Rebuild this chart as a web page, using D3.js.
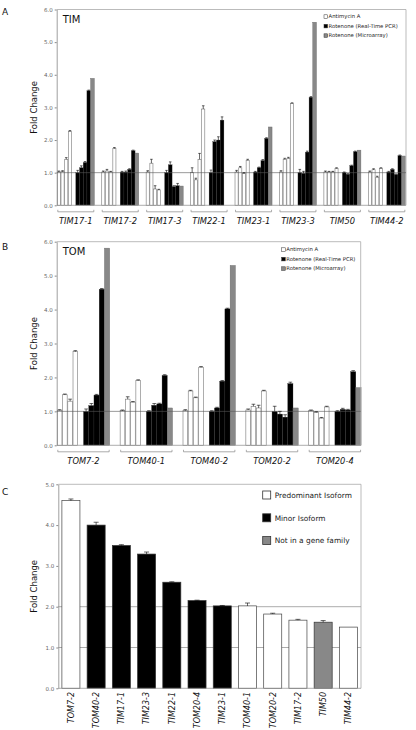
<!DOCTYPE html>
<html><head><meta charset="utf-8">
<script src="https://cdn.jsdelivr.net/npm/d3@7"></script>
<style>body{margin:0;background:#fff} svg{display:block;font-family:"DejaVu Sans",Verdana,sans-serif}</style>
</head><body><script>
// ---------- Panel A: TIM ----------
const timGenes = ["TIM17-1","TIM17-2","TIM17-3","TIM22-1","TIM23-1","TIM23-3","TIM50","TIM44-2"];
const timAntimycin = [[1.02,1.03,1.41,2.26],[1.02,1.05,1.02,1.74],[1.02,1.29,0.5,0.47],[1.0,0.78,1.41,2.95],[1.02,1.15,0.97,1.38],[1.02,1.41,1.44,3.12],[1.02,1.02,1.02,1.13],[1.02,1.09,0.86,1.13]];
const timAntimycinErr = [[0.03,0.03,0.05,0.03],[0.03,0.05,0.02,0.03],[0.04,0.12,0.1,0.02],[0.15,0.05,0.18,0.1],[0.05,0.04,0.03,0.03],[0.04,0.03,0.03,0.02],[0.03,0.02,0.02,0.02],[0.03,0.03,0.03,0.02]];
const timRotenonePCR = [[1.0,1.15,1.31,3.51],[1.02,1.02,1.1,1.67],[1.0,1.24,0.57,0.6],[1.0,1.95,2.0,2.61],[1.02,1.15,1.37,2.05],[1.0,0.98,1.63,3.31],[1.0,0.95,1.21,1.64],[1.02,1.1,0.94,1.52]];
const timRotenonePCRErr = [[0.07,0.06,0.03,0.02],[0.02,0.03,0.02,0.02],[0.07,0.09,0.03,0.07],[0.08,0.05,0.1,0.1],[0.02,0.02,0.03,0.02],[0.1,0.06,0.03,0.02],[0.02,0.02,0.02,0.02],[0.02,0.02,0.02,0.02]];
const timRotenoneArray = [3.89,1.6,0.59,null,2.4,5.61,1.69,1.51];
const timTicks = [0,1,2,3,4,5,6];

// ---------- Panel B: TOM ----------
const tomGenes = ["TOM7-2","TOM40-1","TOM40-2","TOM20-2","TOM20-4"];
const tomAntimycin = [[1.03,1.49,1.3,2.76],[1.02,1.36,1.27,1.91],[1.02,1.6,1.4,2.3],[1.04,1.15,1.1,1.6],[1.02,0.97,0.8,1.13]];
const tomAntimycinErr = [[0.02,0.02,0.06,0.03],[0.02,0.07,0.02,0.02],[0.03,0.02,0.02,0.02],[0.03,0.06,0.08,0.02],[0.02,0.02,0.02,0.02]];
const tomRotenonePCR = [[1.0,1.17,1.48,4.6],[1.0,1.18,1.22,2.06],[1.0,1.1,1.89,4.02],[1.0,0.92,0.83,1.82],[1.0,1.06,1.04,2.17]];
const tomRotenonePCRErr = [[0.07,0.06,0.02,0.02],[0.02,0.05,0.02,0.02],[0.02,0.02,0.02,0.02],[0.15,0.08,0.07,0.04],[0.02,0.03,0.02,0.03]];
const tomRotenoneArray = [5.81,1.1,5.3,1.1,1.7];
const tomTicks = [0,1,2,3,4,5,6];

// ---------- Panel C ----------
const cGenes = ["TOM7-2","TOM40-2","TIM17-1","TIM23-3","TIM22-1","TOM20-4","TIM23-1","TOM40-1","TOM20-2","TIM17-2","TIM50","TIM44-2"];
const cValues = [4.6,4.0,3.5,3.29,2.6,2.15,2.02,2.02,1.82,1.67,1.62,1.5];
const cErrors = [0.04,0.07,0.02,0.05,0.01,0.01,0.01,0.07,0.02,0.02,0.04,0];
const cTypes = ["Predominant","Minor","Minor","Minor","Minor","Minor","Minor","Predominant","Predominant","Predominant","Other","Predominant"];
const cTicks = [0,1,2,3,4,5];
const cLegend = ["Predominant Isoform","Minor Isoform","Not in a gene family"];

const seriesLegend = ["Antimycin A","Rotenone (Real-Time PCR)","Rotenone (Microarray)"];
const colWhite = "#fff", colBlack = "#000", colGray = "#888";

const svg = d3.select("body").append("svg").attr("width",416).attr("height",730);
const fmt = d3.format(".1f");

function drawAxisFrame(g, y, xL, xR, ticks, refLines){
  const ax = g.append("g").attr("transform",`translate(${xL},0)`)
    .call(d3.axisLeft(y).tickValues(ticks).tickFormat(fmt).tickSize(2).tickSizeOuter(0).tickPadding(2));
  ax.select(".domain").attr("stroke","#888").attr("stroke-width",0.8);
  ax.selectAll(".tick line").attr("stroke","#888");
  ax.selectAll(".tick text").attr("font-size","5.5px").attr("fill","#666").attr("font-family","DejaVu Sans, sans-serif");
  const [y0,y1] = y.range();
  g.append("line").attr("x1",xL).attr("x2",xR).attr("y1",y1).attr("y2",y1).attr("stroke","#aaa").attr("stroke-width",0.8);
  g.append("line").attr("x1",xR).attr("x2",xR).attr("y1",y1).attr("y2",y0).attr("stroke","#aaa").attr("stroke-width",0.8);
  g.append("line").attr("x1",xL).attr("x2",xR).attr("y1",y0).attr("y2",y0).attr("stroke","#999").attr("stroke-width",0.8);
  refLines.forEach(v=>{
    g.append("line").attr("x1",xL).attr("x2",xR).attr("y1",y(v)).attr("y2",y(v)).attr("stroke","#555").attr("stroke-width",0.6);
  });
}

function errBar(g, cx, w, y, v, e){
  if(!e) return;
  g.append("line").attr("x1",cx).attr("x2",cx).attr("y1",y(v)).attr("y2",y(v+e)).attr("stroke","#000").attr("stroke-width",0.6);
  g.append("line").attr("x1",cx-w/2).attr("x2",cx+w/2).attr("y1",y(v+e)).attr("y2",y(v+e)).attr("stroke","#000").attr("stroke-width",0.6);
}

function groupedPanel(o){
  const g = svg.append("g");
  const y = d3.scaleLinear().domain([0,6]).range([o.yBottom,o.yTop]);
  const x = d3.scaleBand().domain(o.genes).range([o.x0, o.x0 + o.genes.length*o.pitch]);
  const sub = d3.scaleBand().domain(d3.range(12)).range([0,x.bandwidth()]);
  const bw = sub.bandwidth();
  // bars
  o.genes.forEach((gene,gi)=>{
    const gx = x(gene);
    o.anti[gi].forEach((v,i)=>{
      g.append("rect").attr("x",gx+sub(i)).attr("width",bw-0.6).attr("y",y(v)).attr("height",y(0)-y(v))
        .attr("fill",colWhite).attr("stroke","#777").attr("stroke-width",0.6);
    });
    o.rot[gi].forEach((v,i)=>{
      g.append("rect").attr("x",gx+sub(5+i)).attr("width",bw).attr("y",y(v)).attr("height",y(0)-y(v))
        .attr("fill",colBlack).attr("stroke","#333").attr("stroke-width",0.3);
    });
    const m = o.micro[gi];
    if(m!=null){
      g.append("rect").attr("x",gx+sub(9)).attr("width",bw).attr("y",y(m)).attr("height",y(0)-y(m))
        .attr("fill",colGray).attr("stroke","#666").attr("stroke-width",0.4);
    }
  });
  drawAxisFrame(g, y, o.frameL, o.frameR, o.ticks, [1]);
  o.genes.forEach((gene,gi)=>{
    const gx = x(gene);
    o.anti[gi].forEach((v,i)=>errBar(g, gx+sub(i)+bw/2-0.3, bw*0.7, y, v, o.antiErr[gi][i]));
    o.rot[gi].forEach((v,i)=>errBar(g, gx+sub(5+i)+bw/2, bw*0.7, y, v, o.rotErr[gi][i]));
    // bracket + label
    const bx0 = gx+sub(0)+0.5, bx1 = gx+sub(9)+bw-0.5, by = o.yBottom+6.5;
    g.append("path").attr("d",`M${bx0},${by-2}V${by}H${bx1}V${by-2}`).attr("fill","none").attr("stroke","#888").attr("stroke-width",0.7);
    g.append("text").attr("x",(bx0+bx1)/2).attr("y",o.yBottom+18.5).attr("text-anchor","middle")
      .attr("font-size","8.3px").attr("font-style","italic").attr("fill","#111").text(gene);
  });
  // titles
  g.append("text").attr("x",o.frameL+6).attr("y",o.yTop+13.5).attr("font-size","10px").attr("fill","#111").text(o.title);
  g.append("text").attr("x",2).attr("y",o.letterY).attr("font-size","9px").attr("fill","#111").text(o.letter);
  g.append("text").attr("transform",`translate(37,${(o.yBottom+o.yTop)/2}) rotate(-90)`).attr("text-anchor","middle")
    .attr("font-size","8.5px").attr("fill","#111").text("Fold Change");
  // legend
  const fills = [colWhite,colBlack,colGray];
  seriesLegend.forEach((t,i)=>{
    const ly = o.legendY + i*9.5;
    g.append("rect").attr("x",o.legendX).attr("y",ly-3.2).attr("width",3.6).attr("height",3.6)
      .attr("fill",fills[i]).attr("stroke","#333").attr("stroke-width",0.5);
    g.append("text").attr("x",o.legendX+4.6).attr("y",ly).attr("font-size","5.3px").attr("fill","#222").text(t);
  });
}

groupedPanel({genes:timGenes, anti:timAntimycin, antiErr:timAntimycinErr, rot:timRotenonePCR, rotErr:timRotenonePCRErr,
  micro:timRotenoneArray, x0:57.3, pitch:44.43, frameL:56.7, frameR:406, yBottom:205.3, yTop:9.5, ticks:timTicks,
  title:"TIM", letter:"A", letterY:15, legendX:324, legendY:18});
groupedPanel({genes:tomGenes, anti:tomAntimycin, antiErr:tomAntimycinErr, rot:tomRotenonePCR, rotErr:tomRotenonePCRErr,
  micro:tomRotenoneArray, x0:57.3, pitch:62.85, frameL:56.7, frameR:360.7, yBottom:445.3, yTop:241.7, ticks:tomTicks,
  title:"TOM", letter:"B", letterY:250, legendX:281.7, legendY:251});

// ---------- Panel C ----------
(function(){
  const g = svg.append("g");
  const xL = 58.3, xR = 361;
  const y = d3.scaleLinear().domain([0,5]).range([688.3,484.3]);
  const x = d3.scaleBand().domain(cGenes).range([xL,xR]).paddingInner(0.285).paddingOuter(0.1425);
  const fillOf = {Predominant:colWhite, Minor:colBlack, Other:colGray};
  // gridlines
  [1,2].forEach(v=>{
    g.append("line").attr("x1",xL).attr("x2",xR).attr("y1",y(v)).attr("y2",y(v)).attr("stroke","#888").attr("stroke-width",0.7);
  });
  cGenes.forEach((gene,i)=>{
    const v = cValues[i];
    g.append("rect").attr("x",x(gene)).attr("width",x.bandwidth()).attr("y",y(v)).attr("height",y(0)-y(v))
      .attr("fill",fillOf[cTypes[i]]).attr("stroke",cTypes[i]==="Predominant"?"#444":"#333").attr("stroke-width",0.7);
  });
  drawAxisFrame(g, y, xL, xR, cTicks, []);
  cGenes.forEach((gene,i)=>{
    errBar(g, x(gene)+x.bandwidth()/2, 5, y, cValues[i], cErrors[i]);
    g.append("text").attr("transform",`translate(${x(gene)+x.bandwidth()/2},692) rotate(-90)`)
      .attr("text-anchor","end").attr("dy","0.35em").attr("font-size","8px").attr("font-style","italic").attr("fill","#111").text(gene);
  });
  g.append("text").attr("x",2).attr("y",495).attr("font-size","9px").attr("fill","#111").text("C");
  g.append("text").attr("transform",`translate(37,${(688.3+484.3)/2}) rotate(-90)`).attr("text-anchor","middle")
    .attr("font-size","8.5px").attr("fill","#111").text("Fold Change");
  const lf = [colWhite,colBlack,colGray];
  cLegend.forEach((t,i)=>{
    const cy = 495 + i*22.8;
    g.append("rect").attr("x",262.7).attr("y",cy-4).attr("width",8).attr("height",8)
      .attr("fill",lf[i]).attr("stroke","#333").attr("stroke-width",0.8);
    g.append("text").attr("x",274.7).attr("y",cy+2.8).attr("font-size","7.4px").attr("fill","#222").text(t);
  });
})();
</script></body></html>
